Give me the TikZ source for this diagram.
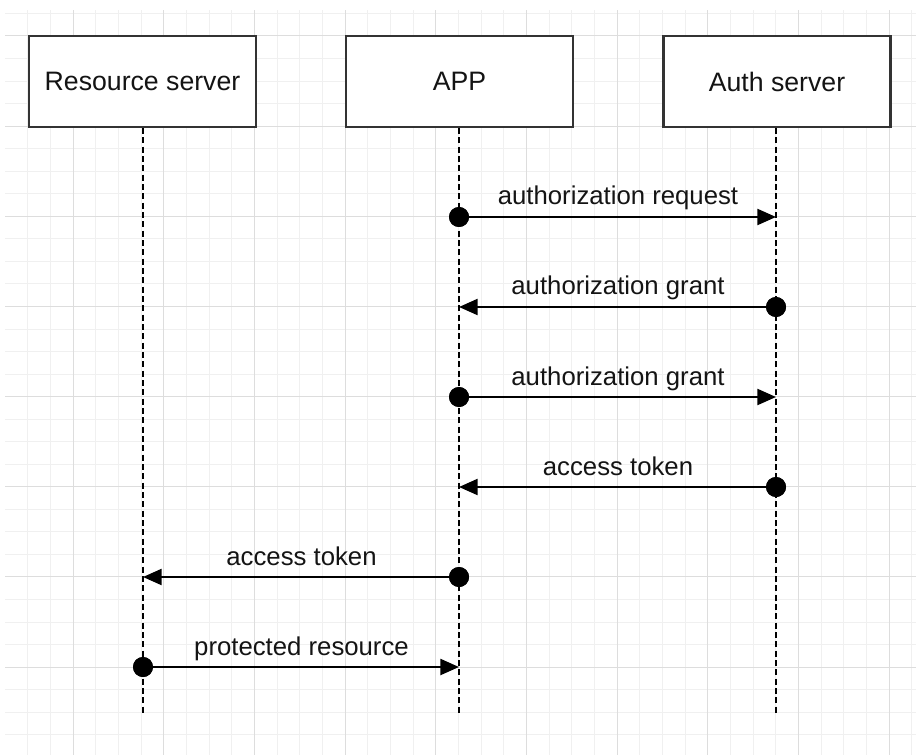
\documentclass[tikz,border=0pt]{standalone}
\usepackage{fontspec}
\setmainfont{Liberation Sans}
\usetikzlibrary{arrows.meta}
\definecolor{minorc}{HTML}{F0F0F0}
\definecolor{majorc}{HTML}{DDDDDD}
\definecolor{inkc}{HTML}{141414}
\begin{document}
\begin{tikzpicture}[x=0.75pt,y=-0.75pt,
  actor/.style={draw=black!80, line width=1.6pt, fill=white, minimum width=170.25pt, minimum height=68.25pt, inner sep=0pt, text=inkc, font=\fontsize{20}{24}\selectfont},
  lifeline/.style={draw=black, line width=1.5pt, dash pattern=on 4.5pt off 2.5pt},
  dotn/.style={circle, fill=black, minimum size=15pt, inner sep=0pt},
  msg/.style={draw=black, line width=1.7pt, -{Triangle[length=14pt,width=12pt]}},
  lbl/.style={font=\fontsize{19.3}{23}\selectfont, anchor=base, text=inkc, inner sep=0pt},
  minorgrid/.style={draw=minorc, line width=0.75pt},
  majorgrid/.style={draw=majorc, line width=0.75pt}]
\useasboundingbox (0,0) rectangle (916,755);
\fill[white] (0,0) rectangle (916,755);
% grid
\begin{scope}
\clip (5,11) rectangle (916,755);
\foreach \i in {-4,...,40} {
  \draw[minorgrid] ({73+\i*22.667},0) -- ({73+\i*22.667},760);
  \draw[minorgrid] (0,{36+\i*22.54}) -- (920,{36+\i*22.54});
}
\foreach \i in {-1,...,10} {
  \draw[majorgrid] ({73+\i*90.67},0) -- ({73+\i*90.67},760);
  \draw[majorgrid] (0,{36+\i*90.15}) -- (920,{36+\i*90.15});
}
\end{scope}
% actors
\node[actor] (rs) at (142.5,81.5) {Resource server};
\node[actor] (app) at (459.5,81.5) {APP};
\node[actor] (as) at (777,81.5) {Auth server};
% lifeline ends
\coordinate (rsEnd) at (143,715);
\coordinate (appEnd) at (459,715);
\coordinate (asEnd) at (776,715);
\draw[lifeline] (rs.south -| rsEnd) -- (rsEnd);
\draw[lifeline] (app.south -| appEnd) -- (appEnd);
\draw[lifeline] (as.south -| asEnd) -- (asEnd);
% message points
\node[dotn] (d1) at (459,217) {};
\coordinate (e1) at (776,217);
\node[dotn] (d2) at (776,307) {};
\coordinate (e2) at (459,307);
\node[dotn] (d3) at (459,397) {};
\coordinate (e3) at (776,397);
\node[dotn] (d4) at (776,487) {};
\coordinate (e4) at (459,487);
\node[dotn] (d5) at (459,577) {};
\coordinate (e5) at (143,577);
\node[dotn] (d6) at (143,667) {};
\coordinate (e6) at (459,667);
\draw[msg] (d1.center) -- (e1);
\draw[msg] (d2.center) -- (e2);
\draw[msg] (d3.center) -- (e3);
\draw[msg] (d4.center) -- (e4);
\draw[msg] (d5.center) -- (e5);
\draw[msg] (d6.center) -- (e6);
\node[dotn] at (d1) {};
\node[dotn] at (d2) {};
\node[dotn] at (d3) {};
\node[dotn] at (d4) {};
\node[dotn] at (d5) {};
\node[dotn] at (d6) {};
% labels
\node[lbl] (l1) at (618,205) {authorization request};
\node[lbl] (l2) at (618,295) {authorization grant};
\node[lbl] (l3) at (618,385) {authorization grant};
\node[lbl] (l4) at (618,475) {access token};
\node[lbl] (l5) at (301.5,565) {access token};
\node[lbl] (l6) at (301.5,655) {protected resource};
\end{tikzpicture}
\end{document}
